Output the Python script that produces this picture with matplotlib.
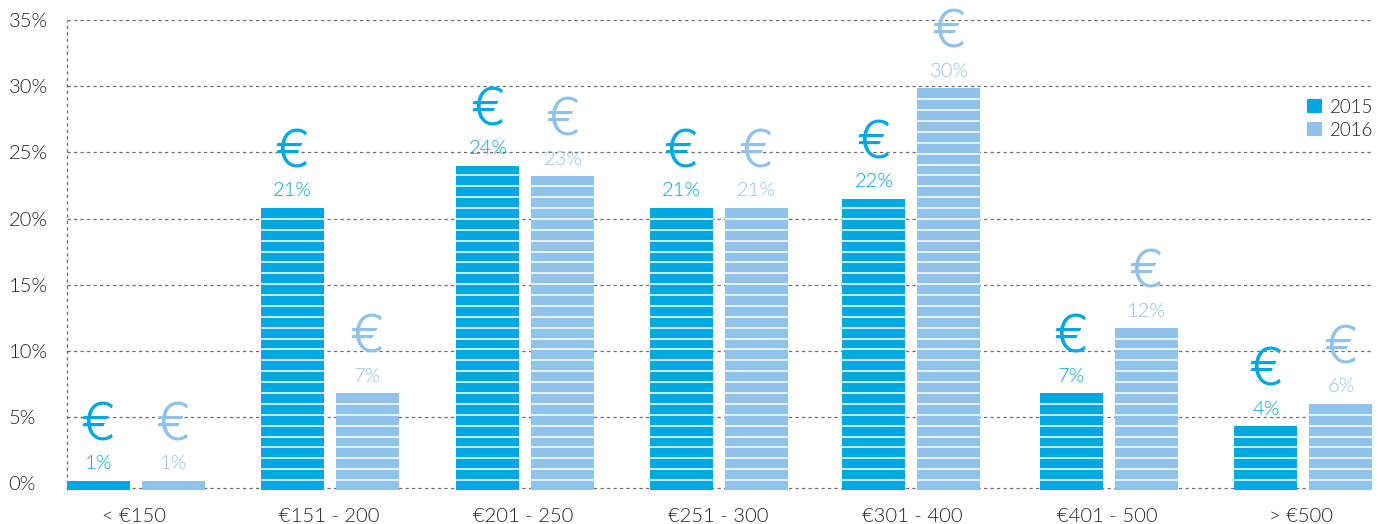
import numpy as np
import matplotlib
matplotlib.use("Agg")
import matplotlib.pyplot as plt
from matplotlib.patches import Patch

categories = ["< €150", "€151 - 200", "€201 - 250", "€251 - 300", "€301 - 400", "€401 - 500", "> €500"]
series_names = ["2015", "2016"]
values_2015 = [0.17, 20.8, 24.0, 20.8, 21.5, 6.8, 4.3]
values_2016 = [0.17, 6.8, 23.2, 20.8, 29.85, 11.7, 6.0]
labels_2015 = ["1%", "21%", "24%", "21%", "22%", "7%", "4%"]
labels_2016 = ["1%", "7%", "23%", "21%", "30%", "12%", "6%"]
y_ticks = [0, 5, 10, 15, 20, 25, 30, 35]
y_tick_labels = ["0%", "5%", "10%", "15%", "20%", "25%", "30%", "35%"]

C15, C16 = "#00A7E1", "#91C3EA"
TXT = "#222222"
GRID = "#6e6e6e"
W, H = 1378, 524
plt.rcParams["font.family"] = ["Lato", "DejaVu Sans"]
plt.rcParams["font.weight"] = 300

fig = plt.figure(figsize=(W / 100, H / 100), dpi=100)
ax = fig.add_axes([67 / W, 1 - 490 / H, (1372 - 67) / W, 470 / H])
PX_Y = 13.24
PX_X = 194.5
X0 = 135.5
ax.set_ylim(-6.8 / PX_Y, 35)
ax.set_xlim((67 - X0) / PX_X, (1372 - X0) / PX_X)

for s in ax.spines.values():
    s.set_visible(False)
dash = dict(color=GRID, lw=0.9, ls=(0, (2.6, 2.6)), zorder=1)
for t in y_ticks[1:]:
    ax.axhline(t, **dash)
ax.axhline(-5.2 / PX_Y, **dash)
ax.axvline(ax.get_xlim()[0], **dash, clip_on=False)

ax.set_yticks(y_ticks, y_tick_labels, fontsize=14.5, color=TXT)
ax.tick_params(axis="y", length=0, pad=42)
for lab in ax.get_yticklabels():
    lab.set_ha("left")

x = np.arange(len(categories)) + np.array([0.0026, 0, 0.005, 0, -0.0103, 0.0026, 0.005])
bw = 63 / PX_X
off = 37.5 / PX_X
ax.set_xticks(np.arange(len(categories)) - 0.006, categories, fontsize=14.5, color=TXT)
ax.tick_params(axis="x", length=0, pad=13)

base = ax.get_ylim()[0]
stripe0, step = (483.2 - 480) / PX_Y, 10.88 / PX_Y
for vals, labs, col, dx in [(values_2015, labels_2015, C15, -off), (values_2016, labels_2016, C16, off)]:
    xs = x + dx
    ax.bar(xs, np.array(vals) - base, bottom=base, width=bw, color=col, lw=0, zorder=2)
    for xi, v, lab in zip(xs, vals, labs):
        n = int((v - stripe0) / step) + 1
        ys = [stripe0 + k * step for k in range(n) if stripe0 + k * step < v - 0.2]
        if ys:
            ax.hlines(ys, xi - bw / 2, xi + bw / 2, color="white", lw=1.1, zorder=3)
        ax.annotate(lab, (xi, v), xytext=(0, 17 / 100 * 72), textcoords="offset points",
                    ha="center", va="center", fontsize=14.5, fontweight=300, color=col, zorder=4)
        ax.annotate("€", (xi, v), xytext=(0, 54 / 100 * 72), textcoords="offset points",
                    ha="center", va="center", fontsize=38, fontfamily="Inter", fontweight=300,
                    color=col, zorder=4, annotation_clip=False)

handles = [Patch(color=C15, lw=0), Patch(color=C16, lw=0)]
ax.legend(handles, series_names, loc="upper right", bbox_to_anchor=((1377 - 67) / (1372 - 67), 1 - (95 - 20) / 470),
          frameon=False, prop={"size": 13.5, "weight": 300, "family": "Lato"}, labelcolor=TXT,
          handlelength=0.81, handleheight=0.81,
          handletextpad=0.4, labelspacing=0.32, borderpad=0.2, borderaxespad=0)

fig.savefig("out.png", dpi=100)
